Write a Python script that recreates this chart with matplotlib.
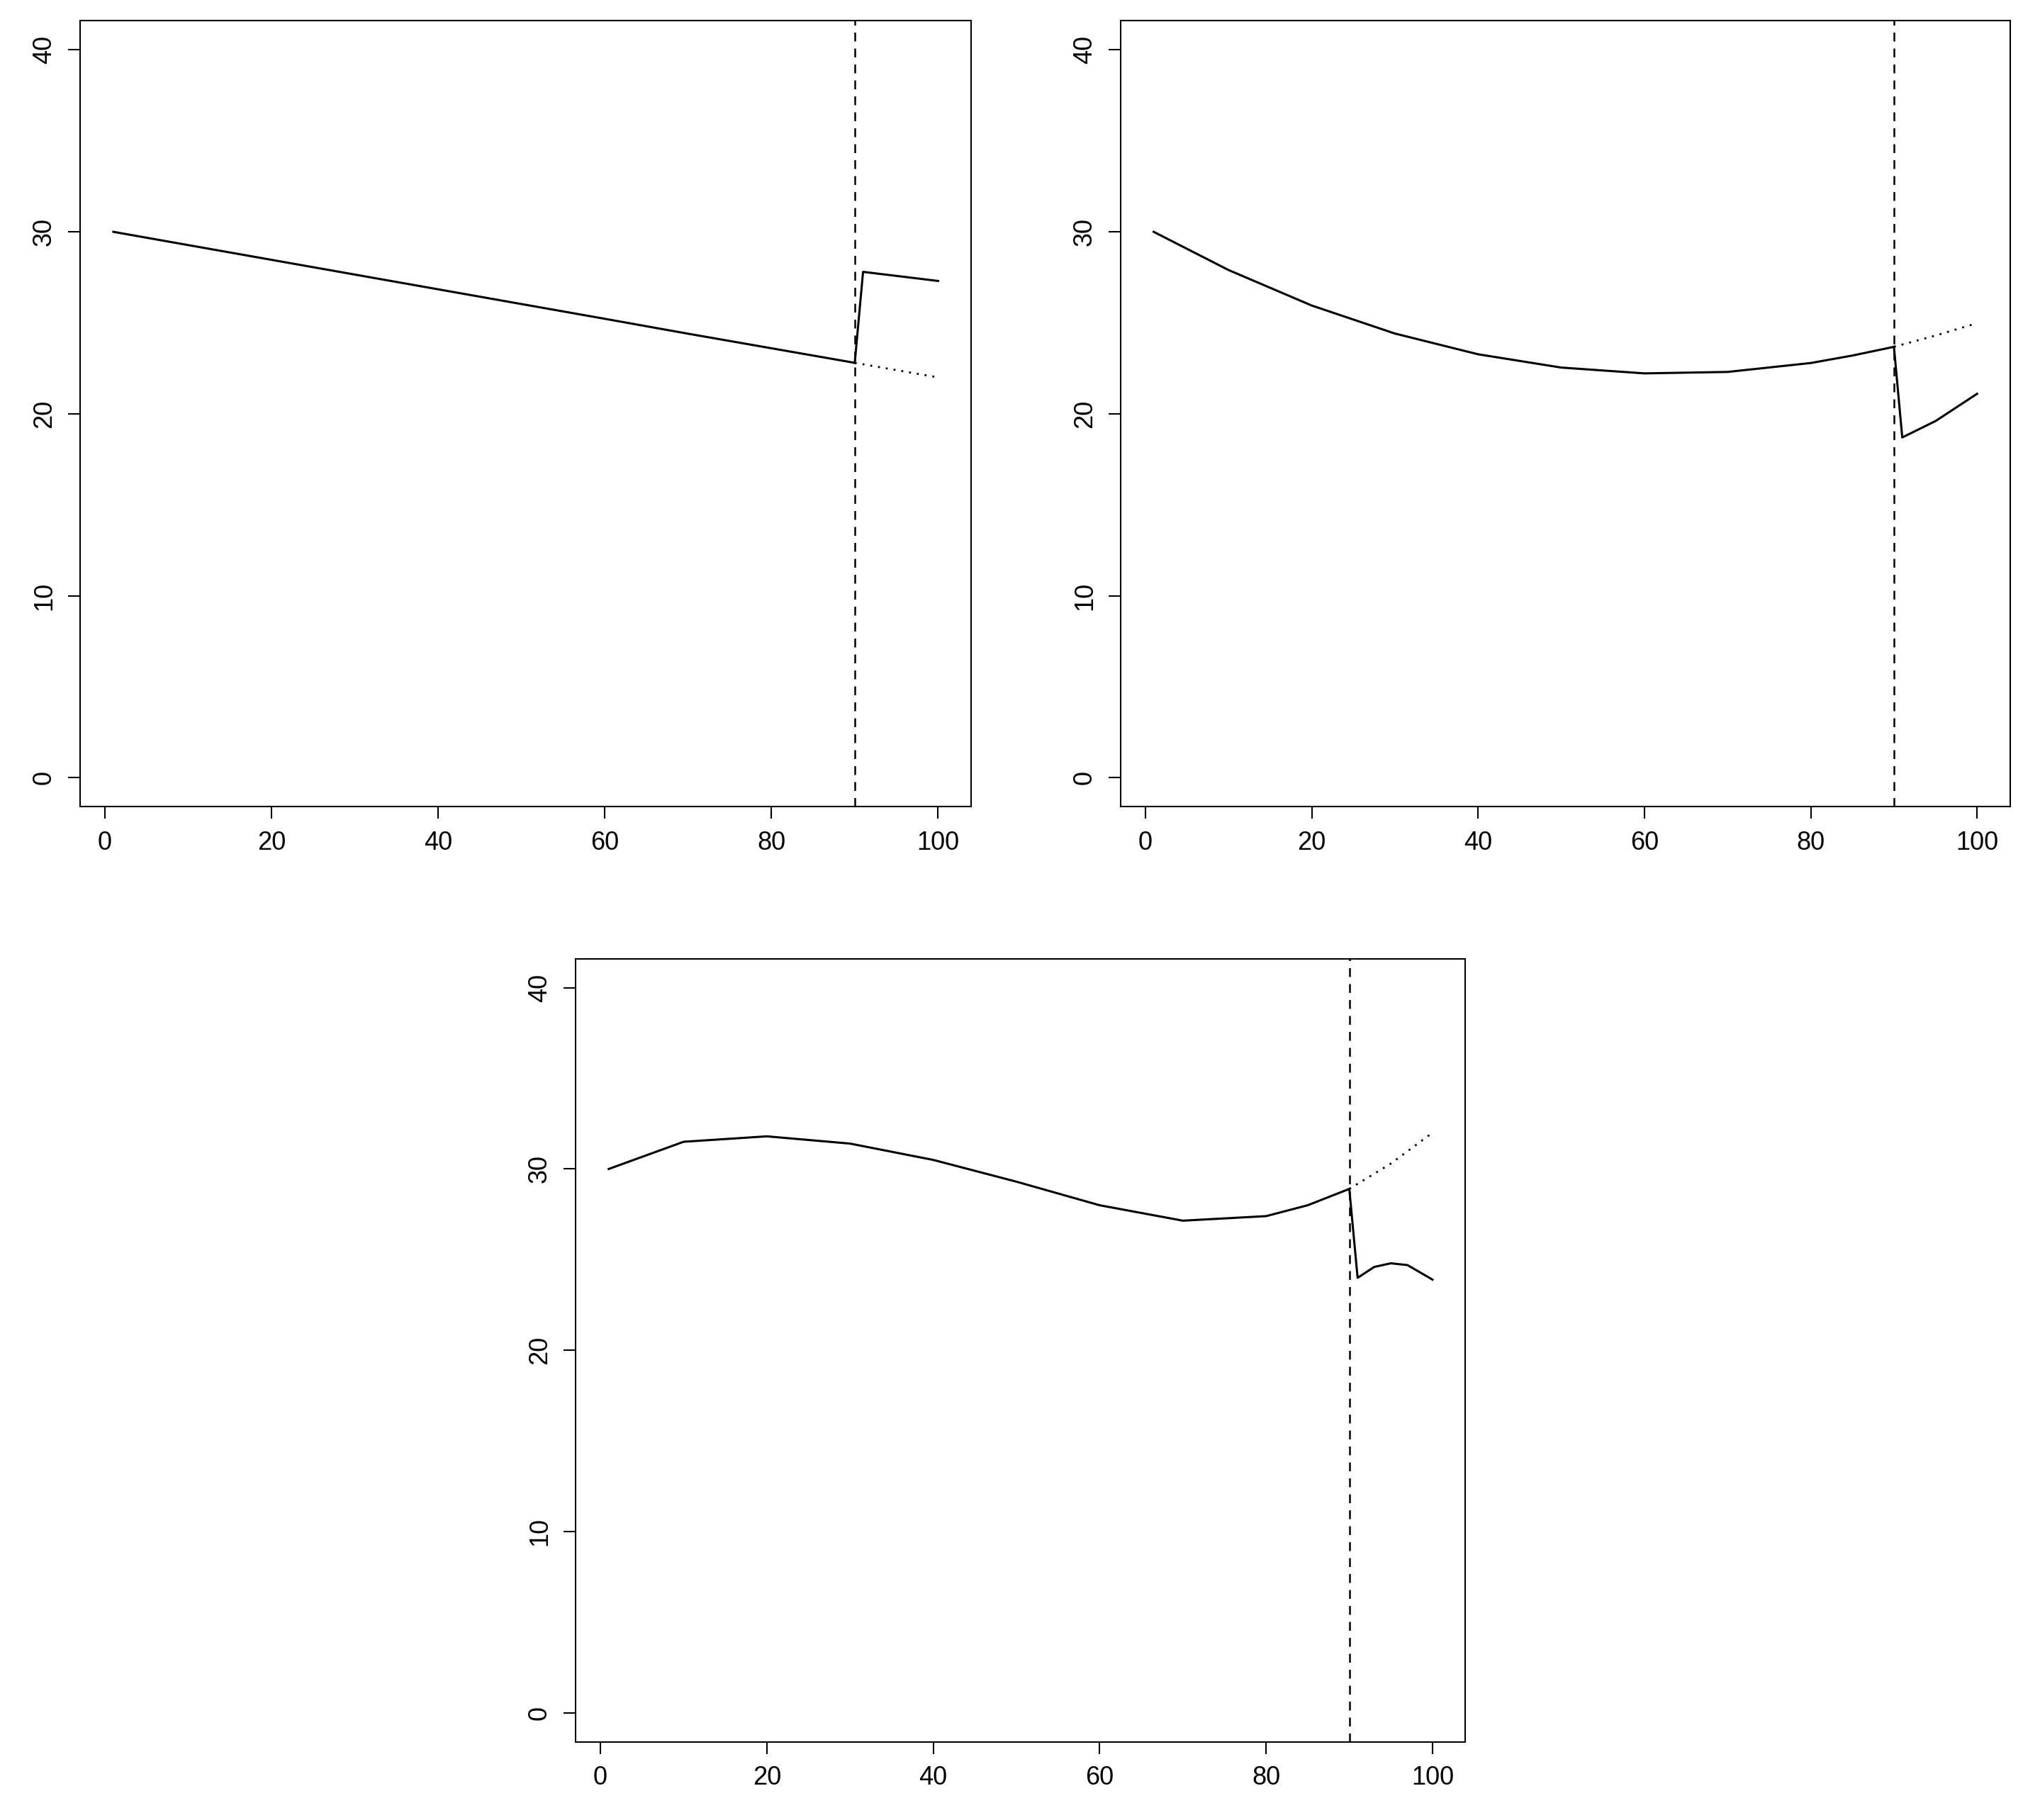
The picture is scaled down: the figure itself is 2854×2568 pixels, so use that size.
import matplotlib
matplotlib.use("Agg")
import matplotlib.pyplot as plt

plt.rcParams['font.family'] = ['Liberation Sans', 'DejaVu Sans']

break_x = 90
pre_x = [1, 10, 20, 30, 40, 50, 60, 70, 80, 85, 90]
# panel 1
p1_pre = [30.0, 29.27, 28.46, 27.65, 26.84, 26.03, 25.22, 24.4, 23.6, 23.2, 22.8]
p1_cf_x = [90, 100]; p1_cf = [22.8, 22.0]
p1_post_x = [90, 91, 100]; p1_post = [22.8, 27.8, 27.3]
# panel 2
p2_pre = [30.0, 27.9, 25.95, 24.41, 23.27, 22.54, 22.22, 22.3, 22.79, 23.2, 23.68]
p2_cf_x = [90, 95, 100]; p2_cf = [23.68, 24.3, 24.98]
p2_post_x = [90, 91, 95, 100]; p2_post = [23.68, 18.7, 19.6, 21.1]
# panel 3
p3_pre = [30.0, 31.5, 31.8, 31.4, 30.5, 29.3, 28.0, 27.15, 27.4, 28.0, 28.9]
p3_cf_x = [90, 95, 100]; p3_cf = [28.9, 30.3, 32.0]
p3_post_x = [90, 91, 93, 95, 97, 100]; p3_post = [28.9, 24.0, 24.6, 24.8, 24.7, 23.9]

panels = [
    ([0.0397, 0.5567, 0.4403, 0.4319], p1_pre, p1_cf_x, p1_cf, p1_post_x, p1_post),
    ([0.554, 0.5567, 0.4396, 0.4319], p2_pre, p2_cf_x, p2_cf, p2_post_x, p2_post),
    ([0.2846, 0.0428, 0.4398, 0.4305], p3_pre, p3_cf_x, p3_cf, p3_post_x, p3_post),
]

fig = plt.figure(figsize=(28.54, 25.68), dpi=100)
for rect, pre, cfx, cf, px, post in panels:
    ax = fig.add_axes(rect)
    ax.plot(pre_x, pre, color='black', lw=2.2)
    ax.plot(cfx, cf, color='black', lw=2, linestyle=(0, (1, 3)))
    ax.plot(px, post, color='black', lw=2.2)
    ax.axvline(break_x, color='black', lw=1.8, linestyle=(0, (5, 4)))
    ax.set_xlim(-2.96, 103.96)
    ax.set_ylim(-1.6, 41.6)
    ax.set_xticks([0, 20, 40, 60, 80, 100])
    ax.set_yticks([0, 10, 20, 30, 40])
    ax.tick_params(direction='out', length=12, width=1.5, labelsize=26, pad=12)
    for lab in ax.get_yticklabels():
        lab.set_rotation(90)
        lab.set_va('center')
    for s in ax.spines.values():
        s.set_linewidth(1.5)
fig.savefig("out.png", dpi=100)
